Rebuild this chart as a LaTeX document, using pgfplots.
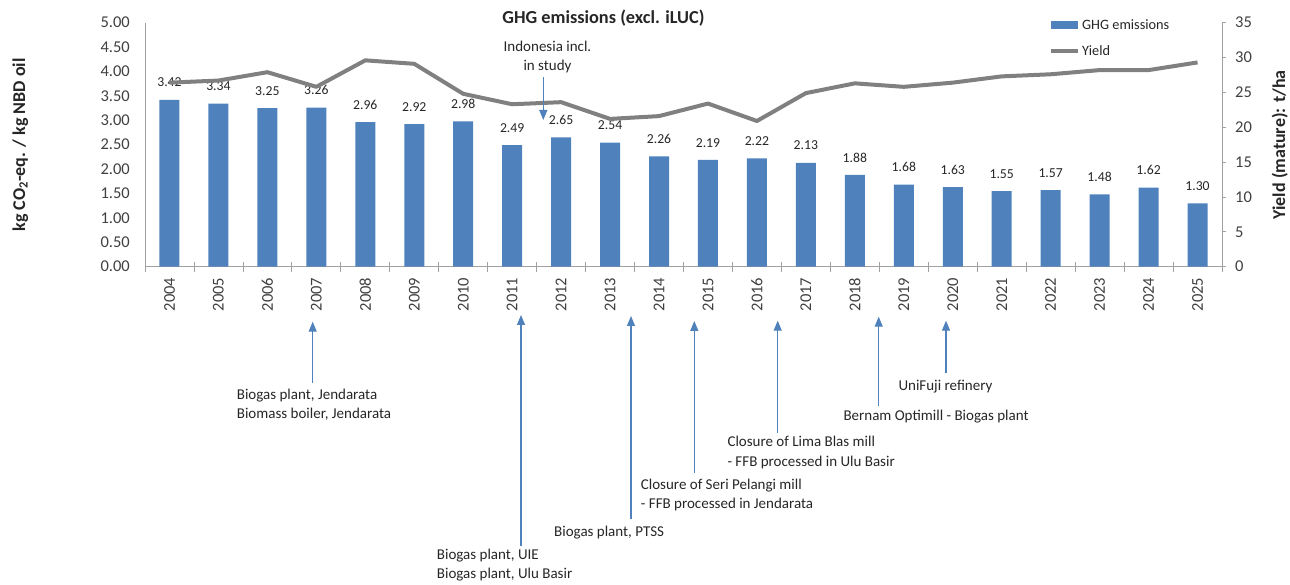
\documentclass[border=0pt]{standalone}
\usepackage{fontspec}
\setmainfont{Carlito}
\usepackage{pgfplots}
\usepackage{pgfplotstable}
\pgfplotsset{compat=1.18}
\usetikzlibrary{arrows.meta}
\pgfkeys{/pgf/number format/assume math mode=true}
\definecolor{barblue}{HTML}{4F81BD}
\definecolor{linegray}{HTML}{808080}
\definecolor{axisgray}{HTML}{A0A0A0}
\definecolor{txt}{HTML}{404040}
\definecolor{annc}{HTML}{262626}
\definecolor{arrblue}{HTML}{4F81BD}

\pgfplotstableread{
x ghg yield
0 3.42 26.4
1 3.34 26.7
2 3.25 27.9
3 3.26 25.8
4 2.96 29.6
5 2.92 29.1
6 2.98 24.8
7 2.49 23.3
8 2.65 23.6
9 2.54 21.2
10 2.26 21.6
11 2.19 23.4
12 2.22 20.9
13 2.13 24.9
14 1.88 26.3
15 1.68 25.8
16 1.63 26.4
17 1.55 27.3
18 1.57 27.6
19 1.48 28.2
20 1.62 28.2
21 1.30 29.3
}\data

\newcommand{\annfont}{\fontsize{15bp}{18bp}\selectfont}
\newcommand{\tickfont}{\fontsize{16.5bp}{19bp}\selectfont}
\newcommand{\ann}[3]{\node[anchor=base west, inner sep=0pt, font=\annfont, text=annc] at (#1bp,585bp-#2bp-4.5bp) {#3};}
\newcommand{\arr}[3]{\draw[annarrow] (#1bp,585bp-#2bp) -- (#1bp,585bp-#3bp);}
\tikzset{annarrow/.style={draw=arrblue, line width=1.2bp, -{Triangle[width=8bp,length=10bp]}}}

\begin{document}
\begin{tikzpicture}
\path[use as bounding box] (0bp,0bp) rectangle (1290bp,585bp);
\begin{axis}[
  at={(145bp,318.3bp)}, anchor=south west,
  scale only axis, width=1077bp, height=244bp,
  xmin=-0.5, xmax=21.5, ymin=0, ymax=5,
  axis x line*=bottom, axis y line*=left,
  axis line style={draw=axisgray, line width=0.8bp, -},
  xtick={0,1,...,21},
  xticklabels={2004,2005,2006,2007,2008,2009,2010,2011,2012,2013,2014,2015,2016,2017,2018,2019,2020,2021,2022,2023,2024,2025},
  major tick length=0pt,
  minor xtick={-0.5,0.5,...,21.5},
  minor tick length=10bp,
  xtick align=center,
  minor tick style={draw=axisgray, line width=0.8bp},
  ytick={0,0.5,1,1.5,2,2.5,3,3.5,4,4.5,5},
  scaled y ticks=false,
  yticklabel style={/pgf/number format/.cd, fixed, fixed zerofill, precision=2},
  tick label style={font=\tickfont, text=txt, inner sep=0pt},
  yticklabel shift=15bp,
  xticklabel style={rotate=90, anchor=east},
  xticklabel shift=11bp,
  clip=false,
]
\addplot[ybar, bar width=20bp, fill=barblue, draw=none,
  nodes near coords={\pgfmathprintnumber[fixed,fixed zerofill,precision=2]{\pgfplotspointmeta}},
  nodes near coords style={font=\fontsize{13.7bp}{16bp}\selectfont, text=annc, inner sep=0pt, anchor=south, yshift=12.5bp}]
  table[x=x,y=ghg]{\data};
\end{axis}
\begin{axis}[
  at={(145bp,318.3bp)}, anchor=south west,
  scale only axis, width=1077bp, height=244bp,
  xmin=-0.5, xmax=21.5, ymin=0, ymax=35,
  axis y line*=right, axis x line=none,
  axis line style={draw=axisgray, line width=0.8bp, -},
  ytick={0,5,10,15,20,25,30,35},
  tick align=outside,
  major tick length=4bp,
  major tick style={draw=axisgray, line width=0.8bp},
  tick label style={font=\tickfont, text=txt, inner sep=0pt},
  yticklabel shift=9bp,
  clip=false,
]
\addplot[draw=linegray, line width=4bp, line join=round, mark=none]
  table[x=x,y=yield]{\data};
\end{axis}

% title and axis titles
\node[anchor=base, inner sep=0pt, font=\fontsize{18.3bp}{22bp}\selectfont\bfseries, text=annc] at (603.5bp,585bp-23.2bp) {GHG emissions (excl. iLUC)};
\node[anchor=base, rotate=90, inner sep=0pt, font=\fontsize{18bp}{22bp}\selectfont\bfseries, text=annc] at (25bp,585bp-145bp) {kg CO\textsubscript{2}-eq. / kg NBD oil};
\node[anchor=base, rotate=90, inner sep=0pt, font=\fontsize{18bp}{22bp}\selectfont\bfseries, text=annc] at (1285bp,585bp-145bp) {Yield (mature): t/ha};

% legend
\fill[barblue] (1051bp,585bp-29.5bp) rectangle (1078bp,585bp-21.5bp);
\draw[linegray, line width=4bp] (1051bp,585bp-50.7bp) -- (1078bp,585bp-50.7bp);
\node[anchor=base west, inner sep=0pt, font=\fontsize{14.3bp}{17bp}\selectfont, text=annc] at (1082bp,585bp-30bp) {GHG emissions};
\node[anchor=base west, inner sep=0pt, font=\fontsize{14.3bp}{17bp}\selectfont, text=annc] at (1082bp,585bp-55.2bp) {Yield};

% annotations
\draw[annarrow] (543.3bp,585bp-77.3bp) -- (543.3bp,585bp-120bp);
\node[anchor=base, inner sep=0pt, font=\annfont, text=annc] at (547.5bp,585bp-51.8bp) {Indonesia incl.};
\node[anchor=base, inner sep=0pt, font=\annfont, text=annc] at (547.5bp,585bp-70.5bp) {in study};

\arr{312.7}{382.7}{321.7}
\ann{236.7}{395}{Biogas plant, Jendarata}
\ann{236.7}{414}{Biomass boiler, Jendarata}

\arr{521}{546}{315}
\ann{436.7}{555}{Biogas plant, UIE}
\ann{436.7}{574.3}{Biogas plant, Ulu Basir}

\arr{631}{519.3}{316}
\ann{554}{531.7}{Biogas plant, PTSS}

\arr{694.3}{472.7}{321}
\ann{640.7}{485}{Closure of Seri Pelangi mill}
\ann{640.7}{504.3}{- FFB processed in Jendarata}

\arr{777.7}{433.3}{320.7}
\ann{727.3}{442.3}{Closure of Lima Blas mill}
\ann{727.3}{461.7}{- FFB processed in Ulu Basir}

\arr{878.7}{406}{316.7}
\ann{843.3}{416}{Bernam Optimill - Biogas plant}

\arr{946}{373.3}{320.7}
\ann{898.3}{386}{UniFuji refinery}
\end{tikzpicture}
\end{document}
